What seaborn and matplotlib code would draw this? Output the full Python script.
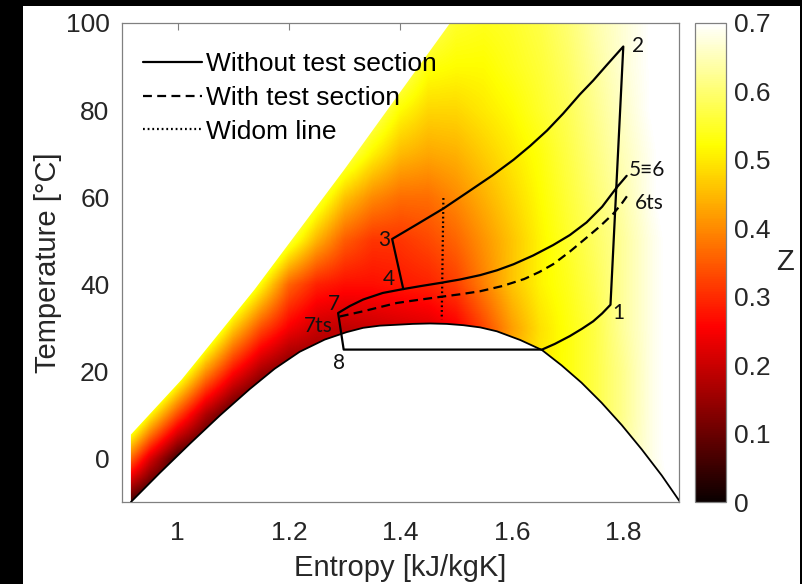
import numpy as np
import matplotlib
matplotlib.use("Agg")
import matplotlib.pyplot as plt
import seaborn as sns
import pandas as pd
from matplotlib.patches import Polygon, Rectangle
from matplotlib.lines import Line2D

# ---------------- data ----------------
# compressibility-factor field (rows: T, cols: s)
s_nodes = [0.90, 0.95, 1.00, 1.05, 1.10, 1.15, 1.20, 1.25, 1.30, 1.35, 1.40,
           1.45, 1.50, 1.55, 1.60, 1.65, 1.70, 1.75, 1.80, 1.85, 1.90]
T_nodes = [-10, 0, 10, 20, 30, 40, 50, 60, 70, 80, 90, 100]
Z_rows = [
    [0.08, 0.00, 0.00, 0.00, 0.00, 0.00, 0.05, 0.10, 0.15, 0.18, 0.20, 0.22, 0.25, 0.30, 0.38, 0.45, 0.50, 0.55, 0.60, 0.66, 0.72],
    [0.43, 0.22, 0.058, 0.00, 0.00, 0.00, 0.05, 0.10, 0.15, 0.20, 0.25, 0.30, 0.35, 0.40, 0.45, 0.50, 0.53, 0.57, 0.63, 0.68, 0.72],
    [0.74, 0.514, 0.33, 0.17, 0.062, 0.00, 0.05, 0.10, 0.15, 0.20, 0.25, 0.30, 0.35, 0.40, 0.45, 0.50, 0.53, 0.57, 0.62, 0.68, 0.72],
    [1.00, 0.80, 0.60, 0.41, 0.265, 0.164, 0.11, 0.12, 0.15, 0.20, 0.25, 0.30, 0.35, 0.40, 0.45, 0.50, 0.53, 0.57, 0.62, 0.68, 0.72],
    [1.00, 1.00, 0.87, 0.65, 0.468, 0.335, 0.248, 0.20, 0.19, 0.20, 0.21, 0.22, 0.25, 0.33, 0.42, 0.49, 0.53, 0.57, 0.63, 0.68, 0.72],
    [1.00, 1.00, 1.00, 0.89, 0.67, 0.52, 0.36, 0.29, 0.27, 0.27, 0.28, 0.29, 0.32, 0.39, 0.46, 0.51, 0.54, 0.58, 0.63, 0.68, 0.72],
    [1.00, 1.00, 1.00, 1.00, 0.87, 0.70, 0.56, 0.44, 0.35, 0.31, 0.31, 0.33, 0.36, 0.41, 0.46, 0.51, 0.55, 0.59, 0.63, 0.68, 0.72],
    [1.00, 1.00, 1.00, 1.00, 1.00, 0.85, 0.70, 0.57, 0.46, 0.40, 0.37, 0.37, 0.40, 0.44, 0.48, 0.52, 0.56, 0.60, 0.64, 0.69, 0.73],
    [1.00, 1.00, 1.00, 1.00, 1.00, 1.00, 0.80, 0.69, 0.59, 0.51, 0.45, 0.43, 0.44, 0.47, 0.50, 0.53, 0.57, 0.61, 0.65, 0.69, 0.73],
    [1.00, 1.00, 1.00, 1.00, 1.00, 1.00, 1.00, 0.80, 0.69, 0.60, 0.52, 0.48, 0.48, 0.50, 0.52, 0.55, 0.58, 0.62, 0.66, 0.70, 0.73],
    [1.00, 1.00, 1.00, 1.00, 1.00, 1.00, 1.00, 1.00, 0.80, 0.69, 0.60, 0.53, 0.52, 0.52, 0.54, 0.56, 0.59, 0.63, 0.67, 0.70, 0.74],
    [1.00, 1.00, 1.00, 1.00, 1.00, 1.00, 1.00, 1.00, 1.00, 0.80, 0.69, 0.59, 0.55, 0.54, 0.55, 0.57, 0.60, 0.64, 0.67, 0.70, 0.74],
]

# saturation dome
dome_s = [0.916, 0.968, 1.022, 1.076, 1.129, 1.174, 1.219, 1.264, 1.303, 1.333,
          1.363, 1.393, 1.422, 1.453, 1.483, 1.513, 1.543, 1.573, 1.615, 1.654,
          1.689, 1.725, 1.761, 1.797, 1.833, 1.869, 1.902]
dome_T = [-10, -3.3, 3.4, 9.9, 15.9, 20.6, 24.5, 27.3, 29.0, 30.0,
          30.5, 30.7, 30.9, 31.0, 30.9, 30.6, 30.1, 29.2, 27.2, 24.9,
          21.4, 17.4, 12.8, 7.7, 2.1, -3.9, -10]

# upper-left (maximum pressure) edge of the coloured field
edge_s = [0.916, 0.916, 1.007, 1.138, 1.30, 1.489, 1.52]
edge_T = [-10, 5.5, 18.1, 38.8, 66.5, 100, 105]

# cycle without test section (5 -> 7 -> 8 -> 1 -> 2 -> 3 -> 4)
cyc_s = [1.806, 1.788, 1.762, 1.734, 1.704, 1.674, 1.638, 1.603, 1.573, 1.543,
         1.507, 1.471, 1.437, 1.405, 1.368, 1.333, 1.309, 1.288,
         1.298, 1.654, 1.677, 1.704, 1.726, 1.746, 1.762, 1.777,
         1.800, 1.770, 1.746, 1.722, 1.692, 1.663, 1.633, 1.603, 1.565, 1.520,
         1.477, 1.430, 1.385,
         1.405]
cyc_T = [64.9, 62.2, 57.8, 54.2, 51.3, 49.0, 46.6, 44.6, 43.2, 42.1,
         41.1, 40.3, 39.6, 38.9, 38.0, 36.5, 35.0, 33.4,
         25.0, 25.0, 26.3, 28.1, 29.8, 31.5, 33.3, 35.3,
         94.6, 90.3, 86.8, 83.6, 79.2, 75.3, 71.8, 68.6, 65.0, 61.1,
         57.4, 53.8, 50.4,
         38.9]

# with test section (7ts -> 6ts)
ts_s = [1.291, 1.333, 1.393, 1.431, 1.471, 1.507, 1.543, 1.583, 1.622, 1.649,
        1.674, 1.704, 1.734, 1.758, 1.782, 1.797, 1.812]
ts_T = [32.6, 33.8, 35.7, 36.4, 37.1, 37.7, 38.4, 39.6, 41.2, 42.8,
        44.6, 47.5, 50.7, 53.3, 56.2, 58.5, 61.2]

# Widom line
widom_s = [1.477, 1.474]
widom_T = [59.8, 31.9]

point_labels = ["2", "5\u22616", "6ts", "1", "3", "4", "7", "7ts", "8"]
label_s = [1.816, 1.809, 1.821, 1.781, 1.382, 1.390, 1.291, 1.279, 1.289]
label_T = [94.7, 66.3, 58.6, 33.4, 50.2, 41.2, 35.5, 30.5, 22.0]

legend_labels = ["Without test section", "With test section", "Widom line"]
xticks = [1.0, 1.2, 1.4, 1.6, 1.8]
yticks = [0, 20, 40, 60, 80, 100]
cticks = [0, 0.1, 0.2, 0.3, 0.4, 0.5, 0.6, 0.7]

# ---------------- style ----------------
sns.set_style("white")
plt.rcParams["font.family"] = ["Liberation Sans", "DejaVu Sans"]
GRAY = "#808080"
TXT = "#262626"
LW = 1.6
DASH = (0, (4.0, 2.4))
DOT = (0, (0.8, 1.3))

fig = plt.figure(figsize=(8.03, 5.84), dpi=100)
ax = fig.add_axes([122 / 803, 82 / 584, 557 / 803, 479 / 584])

# coloured Z field
Z = np.array(Z_rows)
ds = s_nodes[1] - s_nodes[0]
dT = T_nodes[1] - T_nodes[0]
im = ax.imshow(Z, origin="lower", cmap="hot", vmin=0, vmax=0.7, aspect="auto",
               extent=[s_nodes[0] - ds / 2, s_nodes[-1] + ds / 2,
                       T_nodes[0] - dT / 2, T_nodes[-1] + dT / 2],
               interpolation="bilinear", interpolation_stage="data", zorder=1)
poly_xy = list(zip(edge_s, edge_T)) + [(1.95, 105), (1.95, -12)] + \
    list(zip(dome_s[::-1], dome_T[::-1]))
clip = Polygon(poly_xy, closed=True, transform=ax.transData,
               facecolor="none", edgecolor="none")
im.set_clip_path(clip)

# lines
sns.lineplot(x=dome_s, y=dome_T, sort=False, estimator=None, color="black",
             lw=1.3, ax=ax, zorder=3)
sns.lineplot(x=cyc_s, y=cyc_T, sort=False, estimator=None, color="black",
             lw=LW, ax=ax, zorder=4)
sns.lineplot(x=ts_s, y=ts_T, sort=False, estimator=None, color="black",
             lw=LW, ax=ax, zorder=4, linestyle=DASH)
sns.lineplot(x=widom_s, y=widom_T, sort=False, estimator=None, color="black",
             lw=1.6, ax=ax, zorder=4, linestyle=DOT)

for t, sx, ty in zip(point_labels, label_s, label_T):
    ha = "left" if sx > 1.75 else "right"
    if t == "8":
        ha = "center"
    ax.text(sx, ty, t, ha=ha, va="center", fontsize=15,
            family=["Lato", "DejaVu Sans"], color="#111111", zorder=5)

ax.set_xlim(0.9, 1.9)
ax.set_ylim(-10, 100)
ax.set_xticks(xticks)
ax.set_xticklabels(["1", "1.2", "1.4", "1.6", "1.8"])
ax.set_yticks(yticks)
ax.tick_params(direction="in", length=5, width=0.8, color=GRAY, top=True, right=True,
               labelsize=19, labelcolor=TXT)
ax.tick_params(axis="y", pad=9)
ax.tick_params(axis="x", pad=14)
for sp in ax.spines.values():
    sp.set_color(GRAY)
    sp.set_linewidth(0.9)
ax.set_xlabel("Entropy [kJ/kgK]", fontsize=21, color=TXT, labelpad=6)
ax.set_ylabel("Temperature [\u00b0C]", fontsize=21, color=TXT)
ax.yaxis.set_label_coords(-0.107, 0.5)

handles = [Line2D([], [], color="black", lw=LW),
           Line2D([], [], color="black", lw=LW, linestyle=DASH),
           Line2D([], [], color="black", lw=1.6, linestyle=DOT)]
ax.legend(handles, legend_labels, loc="upper left", frameon=False, fontsize=19,
          bbox_to_anchor=(143 / 803, 1 - 52 / 584), bbox_transform=fig.transFigure,
          borderpad=0, borderaxespad=0, handlelength=2.25, handletextpad=0.15,
          labelspacing=0.37, labelcolor="black")

# colorbar
cax = fig.add_axes([695 / 803, 82 / 584, 31 / 803, 479 / 584])
cb = fig.colorbar(im, cax=cax)
cb.set_ticks(cticks)
cb.set_ticklabels(["0", "0.1", "0.2", "0.3", "0.4", "0.5", "0.6", "0.7"])
cb.outline.set_edgecolor(GRAY)
cb.outline.set_linewidth(0.9)
cax.tick_params(direction="in", length=4, color=GRAY, labelsize=19,
                labelcolor=TXT, pad=6)
fig.text(785 / 803, 1 - 262 / 584, "Z", fontsize=21, color=TXT,
         ha="center", va="center")

# screenshot border
for (x0, y0, w, h) in [(0, 1 - 6 / 584, 1, 6 / 584), (0, 0, 23 / 803, 1),
                       (800 / 803, 0, 3 / 803, 1)]:
    fig.patches.append(Rectangle((x0, y0), w, h, transform=fig.transFigure,
                                 facecolor="black", edgecolor="none", zorder=10))

fig.savefig("out.png", dpi=100)
